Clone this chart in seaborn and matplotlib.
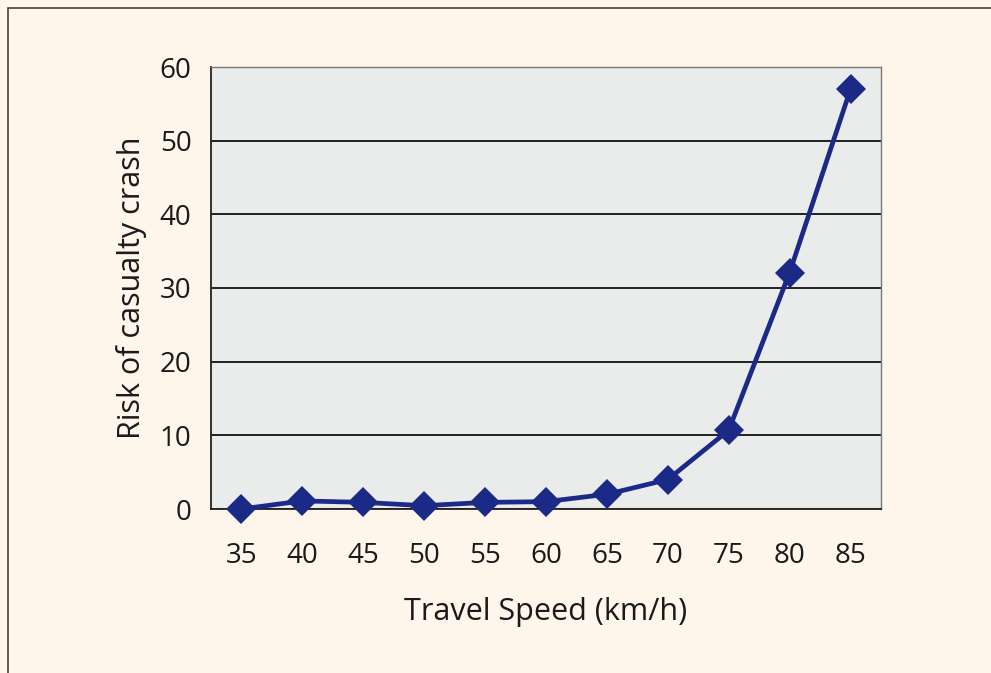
import matplotlib
matplotlib.use('Agg')
import matplotlib.pyplot as plt
import seaborn as sns
import numpy as np
from matplotlib.patches import Rectangle

speeds = ['35', '40', '45', '50', '55', '60', '65', '70', '75', '80', '85']
risk = [0.0, 1.1, 0.9, 0.45, 0.9, 1.0, 2.0, 4.0, 10.7, 32.1, 57.0]
y_ticks = [0, 10, 20, 30, 40, 50, 60]

sns.set_style('white')
plt.rcParams['font.family'] = ['Open Sans', 'DejaVu Sans']
text_color = '#1a1a1a'

fig = plt.figure(figsize=(9.91, 6.73), dpi=100)
fig.patch.set_facecolor('#fef5eb')
ax = fig.add_axes([211 / 991, 1 - 509 / 673, 670 / 991, 442 / 673])
ax.set_facecolor('#eaeceb')

pos = np.arange(len(speeds))
sns.lineplot(x=pos, y=risk, ax=ax, color='#1b2a86', linewidth=3.4,
             marker='D', markersize=15, markeredgewidth=0, clip_on=False, zorder=5)

ax.set_xlim(-0.5, len(speeds) - 0.5)
ax.set_ylim(0, 60)
ax.set_yticks(y_ticks)
ax.set_xticks(pos)
ax.set_xticklabels(speeds)
ax.set_xticks(np.arange(len(speeds) + 1) - 0.5, minor=True)
ax.tick_params(axis='x', which='major', length=0, labelsize=20, pad=24, labelcolor=text_color)
ax.tick_params(axis='x', which='minor', length=6, width=1.2, color='#222222', direction='out')
ax.tick_params(axis='y', length=5, width=1.2, color='#222222', direction='out',
               labelsize=20, pad=9, labelcolor=text_color)
ax.yaxis.grid(True, color='#111111', linewidth=1.3)
ax.set_axisbelow(True)

for side in ['left', 'bottom']:
    ax.spines[side].set_color('#222222')
    ax.spines[side].set_linewidth(1.3)
for side in ['top', 'right']:
    ax.spines[side].set_color('#777777')
    ax.spines[side].set_linewidth(1.0)

ax.set_xlabel('Travel Speed (km/h)', fontsize=22, labelpad=19, color=text_color)
ax.set_ylabel('Risk of casualty crash', fontsize=22, labelpad=9, color=text_color)

# outer frame
fig.patches.append(Rectangle((8 / 991, -0.05), 1.2, 1 - 8 / 673 + 0.05,
                             transform=fig.transFigure, fill=False,
                             edgecolor='#444444', linewidth=1.2))

fig.savefig('out.png', dpi=100, facecolor=fig.get_facecolor())
plt.close(fig)
